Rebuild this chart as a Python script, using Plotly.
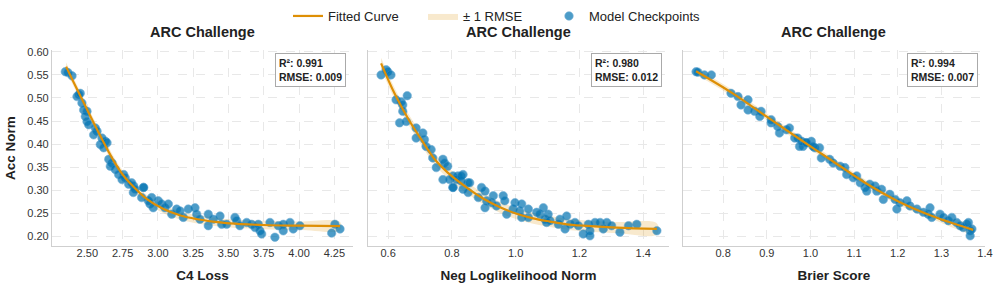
import plotly.graph_objects as go

TITLE = "ARC Challenge"
X_TITLES = ["C4 Loss", "Neg Loglikelihood Norm", "Brier Score"]
Y_TITLE = "Acc Norm"
R2 = [0.991, 0.980, 0.994]
RMSE = [0.009, 0.012, 0.007]

# Panel 1: C4 loss
c4_x = [2.344, 2.363, 2.392, 2.427, 2.44, 2.45, 2.462, 2.474, 2.498, 2.486, 2.498, 2.51,
        2.557, 2.569, 2.545, 2.604, 2.628, 2.64, 2.592, 2.616, 2.652, 2.675, 2.663, 2.698,
        2.722, 2.758, 2.769, 2.746, 2.793, 2.829, 2.814, 2.826, 2.838, 2.897, 2.885, 2.932,
        2.944, 2.967, 2.956, 3.003, 3.027, 3.05, 3.074, 3.098, 3.133, 3.157, 3.18, 3.215,
        3.263, 3.275, 3.298, 3.357, 3.357, 3.392, 3.44, 3.452, 3.487, 3.546, 3.558, 3.581,
        3.629, 3.664, 3.688, 3.711, 3.723, 3.735, 3.794, 3.829, 3.853, 3.888, 3.888, 3.936,
        3.959, 4.006, 4.231, 4.254, 4.29, 2.9]
c4_y = [0.557, 0.555, 0.548, 0.503, 0.507, 0.510, 0.489, 0.474, 0.471, 0.460, 0.449, 0.442,
        0.435, 0.428, 0.420, 0.413, 0.406, 0.403, 0.399, 0.392, 0.367, 0.359, 0.352, 0.345,
        0.334, 0.334, 0.327, 0.323, 0.313, 0.309, 0.316, 0.295, 0.302, 0.306, 0.284, 0.277,
        0.270, 0.262, 0.284, 0.277, 0.270, 0.262, 0.270, 0.248, 0.259, 0.255, 0.241, 0.259,
        0.262, 0.248, 0.237, 0.248, 0.223, 0.237, 0.244, 0.226, 0.226, 0.241, 0.234, 0.223,
        0.230, 0.226, 0.219, 0.226, 0.212, 0.205, 0.230, 0.198, 0.223, 0.226, 0.212, 0.230,
        0.216, 0.223, 0.207, 0.226, 0.216, 0.306]
c4_fit_x = [2.35, 2.40, 2.45, 2.50, 2.55, 2.60, 2.65, 2.70, 2.75, 2.80, 2.92, 3.04, 3.16,
            3.28, 3.39, 3.51, 3.75, 4.00, 4.29]
c4_fit_y = [0.568, 0.536, 0.505, 0.474, 0.443, 0.413, 0.384, 0.357, 0.334, 0.316, 0.281,
            0.259, 0.245, 0.237, 0.232, 0.228, 0.2245, 0.223, 0.222]

# Panel 2: Neg loglikelihood norm
nll_x = [0.578, 0.594, 0.599, 0.609, 0.625, 0.641, 0.646, 0.66, 0.646, 0.636, 0.657, 0.688,
         0.709, 0.688, 0.714, 0.719, 0.735, 0.74, 0.772, 0.777, 0.751, 0.787, 0.772, 0.793,
         0.819, 0.835, 0.803, 0.829, 0.85, 0.804, 0.804, 0.815, 0.83, 0.835, 0.851, 0.856,
         0.883, 0.893, 0.904, 0.909, 0.904, 0.925, 0.93, 0.94, 0.961, 0.966, 0.972, 0.992,
         0.998, 1.013, 1.019, 1.019, 1.04, 1.04, 1.066, 1.076, 1.087, 1.092, 1.102, 1.097,
         1.108, 1.134, 1.139, 1.155, 1.16, 1.171, 1.186, 1.197, 1.212, 1.228, 1.233, 1.233,
         1.249, 1.265, 1.275, 1.286, 1.301, 1.327, 1.354, 1.38, 1.443]
nll_y = [0.550, 0.561, 0.557, 0.550, 0.496, 0.492, 0.485, 0.505, 0.471, 0.446, 0.449, 0.435,
         0.424, 0.413, 0.410, 0.395, 0.388, 0.370, 0.367, 0.359, 0.349, 0.352, 0.323, 0.323,
         0.331, 0.334, 0.306, 0.320, 0.316, 0.331, 0.306, 0.323, 0.331, 0.302, 0.295, 0.316,
         0.284, 0.306, 0.298, 0.277, 0.262, 0.273, 0.288, 0.266, 0.288, 0.277, 0.248, 0.259,
         0.273, 0.255, 0.270, 0.241, 0.259, 0.241, 0.252, 0.248, 0.262, 0.237, 0.248, 0.230,
         0.234, 0.226, 0.237, 0.216, 0.244, 0.226, 0.230, 0.223, 0.205, 0.226, 0.212, 0.201,
         0.230, 0.230, 0.216, 0.230, 0.223, 0.209, 0.223, 0.226, 0.212]
nll_fit_x = [0.578, 0.62, 0.662, 0.704, 0.746, 0.787, 0.85, 0.898, 0.951, 1.003, 1.055,
             1.108, 1.16, 1.212, 1.317, 1.443]
nll_fit_y = [0.575, 0.510, 0.456, 0.410, 0.367, 0.338, 0.304, 0.282, 0.263, 0.249, 0.239,
             0.232, 0.226, 0.223, 0.219, 0.216]

# Panel 3: Brier score
br_x = [0.738, 0.742, 0.757, 0.773, 0.818, 0.834, 0.841, 0.857, 0.857, 0.872, 0.887, 0.884,
        0.91, 0.91, 0.925, 0.929, 0.945, 0.952, 0.964, 0.971, 0.975, 0.983, 0.99, 1.002,
        1.01, 1.021, 1.025, 1.044, 0.98, 0.991, 1.006, 1.052, 1.068, 1.079, 1.083, 1.098,
        1.106, 1.114, 1.125, 1.129, 1.136, 1.148, 1.152, 1.163, 1.167, 1.182, 1.194, 1.198,
        1.205, 1.221, 1.228, 1.244, 1.259, 1.27, 1.274, 1.278, 1.297, 1.305, 1.316, 1.324,
        1.335, 1.343, 1.35, 1.358, 1.362, 1.366, 1.366, 1.37]
br_y = [0.557, 0.556, 0.550, 0.550, 0.510, 0.503, 0.485, 0.496, 0.474, 0.471, 0.471, 0.460,
        0.453, 0.446, 0.438, 0.424, 0.431, 0.435, 0.413, 0.413, 0.395, 0.395, 0.403, 0.406,
        0.392, 0.392, 0.370, 0.367, 0.406, 0.403, 0.395, 0.359, 0.352, 0.349, 0.334, 0.327,
        0.331, 0.316, 0.306, 0.298, 0.313, 0.309, 0.298, 0.302, 0.280, 0.291, 0.280, 0.259,
        0.273, 0.277, 0.266, 0.259, 0.252, 0.248, 0.262, 0.241, 0.248, 0.241, 0.234, 0.241,
        0.230, 0.223, 0.219, 0.226, 0.230, 0.212, 0.201, 0.216]
br_fit_x = [0.738, 0.822, 0.899, 0.975, 1.048, 1.129, 1.205, 1.282, 1.373]
br_fit_y = [0.558, 0.510, 0.460, 0.411, 0.365, 0.314, 0.274, 0.243, 0.214]

X_TICKS = [[2.50, 2.75, 3.00, 3.25, 3.50, 3.75, 4.00, 4.25],
           [0.6, 0.8, 1.0, 1.2, 1.4],
           [0.8, 0.9, 1.0, 1.1, 1.2, 1.3, 1.4]]
X_FMT = [".2f", ".1f", ".1f"]
Y_TICKS = [0.20, 0.25, 0.30, 0.35, 0.40, 0.45, 0.50, 0.55, 0.60]

panels = [(c4_x, c4_y, c4_fit_x, c4_fit_y),
          (nll_x, nll_y, nll_fit_x, nll_fit_y),
          (br_x, br_y, br_fit_x, br_fit_y)]

BLUE = "#0173b2"
ORANGE = "#de8f05"
FONT = "Liberation Sans, Arial, sans-serif"

X_RANGES = [[2.25, 4.382], [0.537, 1.481], [0.708, 1.400]]
DOMAINS = [[0.0, 0.3226], [0.3387, 0.6613], [0.6763, 1.0]]

fig = go.Figure()
for i, (px, py, fx, fy) in enumerate(panels):
    xa = "x" if i == 0 else f"x{i+1}"
    ya = "y" if i == 0 else f"y{i+1}"
    r = RMSE[i]
    bx = list(fx) + list(fx[::-1])
    by = [v + r for v in fy] + [v - r for v in fy[::-1]]
    fig.add_trace(go.Scatter(x=bx, y=by, xaxis=xa, yaxis=ya, mode="lines",
                             line=dict(width=0, shape="spline"), fill="toself",
                             fillcolor="rgba(222,143,5,0.2)", name="± 1 RMSE",
                             showlegend=(i == 0), legend="legend2", hoverinfo="skip"))
    fig.add_trace(go.Scatter(x=px, y=py, xaxis=xa, yaxis=ya, mode="markers",
                             marker=dict(size=8.5, color=BLUE, opacity=0.7,
                                         line=dict(width=0.6, color="#3a8fc4")),
                             name="Model Checkpoints", showlegend=(i == 0), legend="legend3"))
    fig.add_trace(go.Scatter(x=fx, y=fy, xaxis=xa, yaxis=ya, mode="lines",
                             line=dict(color=ORANGE, width=2.2, shape="spline", smoothing=1),
                             name="Fitted Curve", showlegend=(i == 0), legend="legend"))


def leg(xpx):
    return dict(orientation="h", xref="container", yref="container",
                x=xpx / 997, xanchor="left", y=1 - 16 / 288, yanchor="middle",
                font=dict(size=13, color="#222222"), itemwidth=30,
                bgcolor="rgba(0,0,0,0)")


layout = dict(
    width=997, height=288, paper_bgcolor="white", plot_bgcolor="white",
    margin=dict(l=52, r=12, t=50, b=42, autoexpand=False),
    font=dict(family=FONT, size=11, color="#333333"),
    showlegend=True,
    legend=leg(288), legend2=leg(423), legend3=leg(549),
)
annotations = []
for i in range(3):
    sx = "" if i == 0 else str(i + 1)
    layout["xaxis" + sx] = dict(
        domain=DOMAINS[i], range=X_RANGES[i], anchor="y" + sx,
        tickvals=X_TICKS[i], tickformat=X_FMT[i], ticks="", ticklabelstandoff=-3,
        showgrid=True, gridcolor="#e8e8e8", griddash="dash", gridwidth=1,
        showline=True, linecolor="#cfcfcf", linewidth=1.2, zeroline=False,
        title=dict(text=f"<b>{X_TITLES[i]}</b>", font=dict(size=13.5, color="#222222"), standoff=12),
        tickfont=dict(size=11, color="#333333"))
    layout["yaxis" + sx] = dict(
        domain=[0, 1], range=[0.179, 0.604], anchor="x" + sx,
        tickvals=Y_TICKS, tickformat=".2f", ticks="", showticklabels=(i == 0),
        showgrid=True, gridcolor="#e8e8e8", griddash="dash", gridwidth=1,
        showline=True, linecolor="#cfcfcf", linewidth=1.2, zeroline=False,
        tickfont=dict(size=11, color="#333333"))
    annotations.append(dict(
        xref=f"x{sx} domain", yref=f"y{sx} domain", x=0.5, y=1.0, yanchor="bottom",
        text=f"<b>{TITLE}</b>", showarrow=False, yshift=8,
        font=dict(size=14.5, color="#222222")))
    annotations.append(dict(
        xref=f"x{sx} domain", yref=f"y{sx} domain", x=0.977, y=0.985,
        xanchor="right", yanchor="top", align="left", showarrow=False,
        text=f"<b>R²: {R2[i]:.3f}<br>RMSE: {RMSE[i]:.3f}</b>",
        font=dict(size=10.5, color="#222222"), bgcolor="white",
        bordercolor="#aaaaaa", borderwidth=1, borderpad=3))
annotations.append(dict(
    xref="paper", yref="paper", x=(10 - 52) / 933, y=0.5, xanchor="center", yanchor="middle",
    textangle=-90, showarrow=False, text=f"<b>{Y_TITLE}</b>",
    font=dict(size=13.5, color="#222222")))
layout["annotations"] = annotations
fig.update_layout(**layout)
fig.write_html("out.html", config={"displayModeBar": False},
               post_script="document.body.style.margin='0';")
